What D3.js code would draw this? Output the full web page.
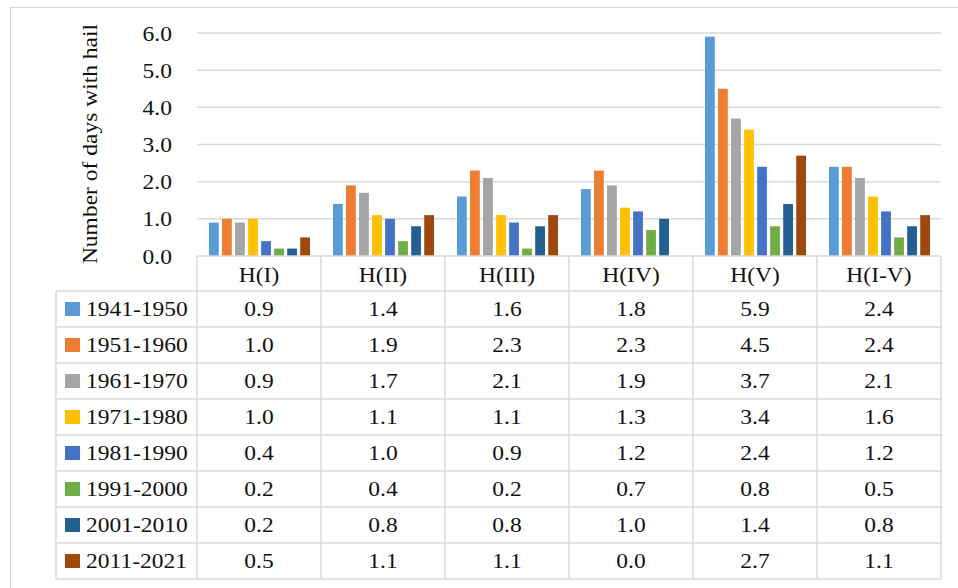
<!DOCTYPE html>
<html>
<head>
<meta charset="utf-8">
<script src="https://cdn.jsdelivr.net/npm/d3@7"></script>
<style>
  html, body { margin: 0; padding: 0; background: #fff; }
  svg { display: block; }
  text { font-family: "Liberation Serif", "Times New Roman", serif; fill: #111; }
</style>
</head>
<body>
<svg id="chart" width="958" height="588"></svg>
<script>
// ---- data ----
const categories = ["H(I)", "H(II)", "H(III)", "H(IV)", "H(V)", "H(I-V)"];
const seriesNames = ["1941-1950", "1951-1960", "1961-1970", "1971-1980", "1981-1990", "1991-2000", "2001-2010", "2011-2021"];
const s1941 = [0.9, 1.4, 1.6, 1.8, 5.9, 2.4];
const s1951 = [1.0, 1.9, 2.3, 2.3, 4.5, 2.4];
const s1961 = [0.9, 1.7, 2.1, 1.9, 3.7, 2.1];
const s1971 = [1.0, 1.1, 1.1, 1.3, 3.4, 1.6];
const s1981 = [0.4, 1.0, 0.9, 1.2, 2.4, 1.2];
const s1991 = [0.2, 0.4, 0.2, 0.7, 0.8, 0.5];
const s2001 = [0.2, 0.8, 0.8, 1.0, 1.4, 0.8];
const s2011 = [0.5, 1.1, 1.1, 0.0, 2.7, 1.1];
const yTicks = [0, 1, 2, 3, 4, 5, 6];
const yTitle = "Number of days with hail";
const colors = ["#5B9BD5", "#ED7D31", "#A5A5A5", "#FFC000", "#4472C4", "#70AD47", "#255E91", "#9E480E"];

const seriesValues = [s1941, s1951, s1961, s1971, s1981, s1991, s2001, s2011];
const series = seriesNames.map((name, i) => ({ name, values: seriesValues[i], color: colors[i] }));

// ---- layout ----
const svg = d3.select("#chart");
const plotLeft = 197, plotRight = 941, plotTop = 33, plotBottom = 256;
const rowH = 36, headerBottom = 291, legendLeft = 56;
const tableBottom = headerBottom + rowH * series.length;
const grid = "#d9d9d9";
const SX = 1.12, FS = 21;

const x0 = d3.scaleBand().domain(categories).range([plotLeft, plotRight]).padding(0);
const x1 = d3.scaleBand().domain(seriesNames).range([12, x0.bandwidth() - 11]).paddingInner(0.25).paddingOuter(0);
const y = d3.scaleLinear().domain([0, 6]).range([plotBottom, plotTop]);

function label(g, txt, x, yy, anchor, rotate) {
  const t = g.append("g").attr("transform", `translate(${x},${yy})` + (rotate ? ` rotate(${rotate})` : "") + ` scale(${SX},1)`);
  t.append("text").attr("text-anchor", anchor).attr("dominant-baseline", "central")
    .style("font-size", FS + "px").text(txt);
  return t;
}

// outer chart border
svg.append("rect").attr("x", 10.5).attr("y", 7.5).attr("width", 990).attr("height", 600)
  .attr("fill", "none").attr("stroke", grid).attr("stroke-width", 1);

// gridlines
const gridG = svg.append("g");
gridG.selectAll("line").data(yTicks.filter(d => d > 0)).join("line")
  .attr("x1", plotLeft).attr("x2", plotRight)
  .attr("y1", d => y(d)).attr("y2", d => y(d))
  .attr("stroke", grid).attr("stroke-width", 1.5);

// y axis labels
const yAxis = d3.axisLeft(y).tickValues(yTicks).tickFormat(d3.format(".1f")).tickSize(0);
const yg = svg.append("g").attr("transform", `translate(${plotLeft},0)`).call(yAxis);
yg.select(".domain").remove();
yg.selectAll("text").remove();
yg.selectAll(".tick").each(function (d) {
  label(d3.select(this), d3.format(".1f")(d), -25, 0, "end");
});

// y title
label(svg, yTitle, 90, (plotTop + plotBottom) / 2 - 0.5, "middle", -90);

// bars
const groups = svg.append("g").selectAll("g").data(categories).join("g")
  .attr("transform", d => `translate(${x0(d)},0)`);
groups.selectAll("rect").data((c, ci) => series.map(s => ({ s, v: s.values[ci] }))).join("rect")
  .attr("x", d => x1(d.s.name))
  .attr("width", x1.bandwidth())
  .attr("y", d => y(d.v))
  .attr("height", d => y(0) - y(d.v))
  .attr("fill", d => d.s.color);

// ---- data table ----
const tg = svg.append("g").attr("stroke", grid).attr("stroke-width", 1.5);
tg.append("line").attr("x1", plotLeft).attr("x2", plotRight).attr("y1", plotBottom).attr("y2", plotBottom);
d3.range(series.length + 1).forEach(i => {
  tg.append("line").attr("x1", legendLeft).attr("x2", plotRight)
    .attr("y1", headerBottom + i * rowH).attr("y2", headerBottom + i * rowH);
});
categories.forEach(c => {
  tg.append("line").attr("x1", x0(c)).attr("x2", x0(c)).attr("y1", plotBottom).attr("y2", tableBottom);
});
tg.append("line").attr("x1", plotRight).attr("x2", plotRight).attr("y1", plotBottom).attr("y2", tableBottom);
tg.append("line").attr("x1", legendLeft).attr("x2", legendLeft).attr("y1", headerBottom).attr("y2", tableBottom);

// header labels
categories.forEach(c => {
  label(svg, c, x0(c) + x0.bandwidth() / 2, (plotBottom + headerBottom) / 2 + 1, "middle");
});

// rows
series.forEach((s, i) => {
  const cy = headerBottom + i * rowH + rowH / 2;
  svg.append("rect").attr("x", 65).attr("y", cy - 7).attr("width", 15).attr("height", 14).attr("fill", s.color);
  label(svg, s.name, 86, cy, "start");
  s.values.forEach((v, ci) => {
    label(svg, d3.format(".1f")(v), x0(categories[ci]) + x0.bandwidth() / 2, cy, "middle");
  });
});
</script>
</body>
</html>
